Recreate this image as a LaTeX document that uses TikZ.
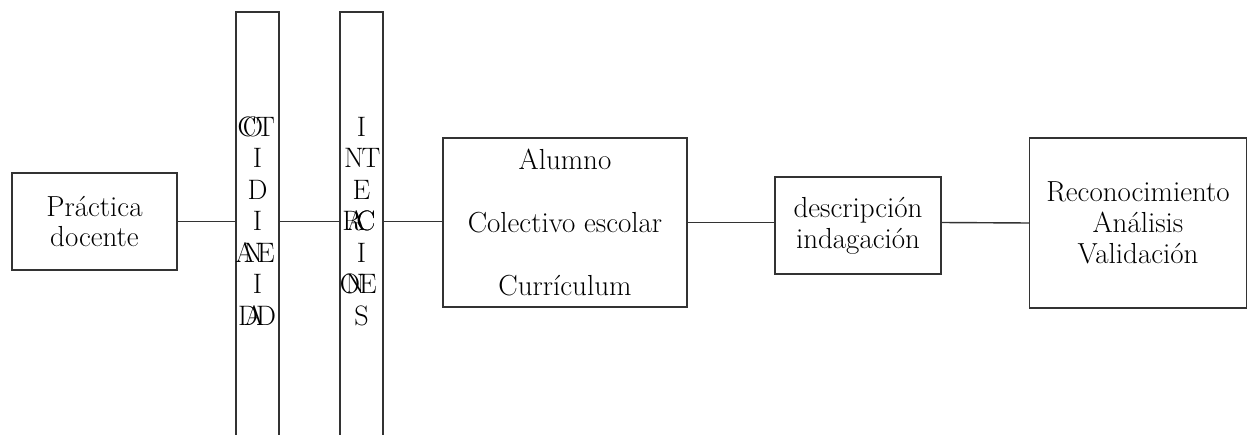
\documentclass[tikz,border=0pt]{standalone}
\newcommand{\lt}[2]{\makebox[0pt]{\kern#1pt#2\kern-#1pt}}
\tikzset{
  caja/.style={draw=black!80, line width=0.8pt, align=center, font=\fontsize{16.5}{17.5}\selectfont},
  barra/.style={draw=black!80, line width=0.8pt, minimum width=8.6mm, minimum height=89.6mm, inner sep=0pt},
  letra/.style={anchor=base, inner sep=0pt, font=\fontsize{16}{17}\selectfont},
  enlace/.style={draw=black!80, line width=0.8pt}
}
\begin{document}
\begin{tikzpicture}[x=0.2mm,y=-0.2mm]
            \useasboundingbox (0,0) rectangle (1248,435);
            \clip (0,0) rectangle (1248,435);
            \node[caja, minimum width=33mm, minimum height=19.4mm] (practica) at (94.5,221.5) {Práctica\\docente};
            \begin{scope}
                \node[barra] (cotid) at (257.5,236) {};
                \foreach \t [count=\i] in {{\lt{-6}{C}\lt{-2.5}{O}\lt{4.5}{T}}, I, D, I,
                    {\lt{-7}{A}\lt{-2.5}{N}\lt{4.8}{E}}, I, {\lt{-5.4}{D}\lt{-2}{A}\lt{4.8}{D}}}
                    \node[letra] (cot\i) at (257.5,{104.5+31.5*\i}) {\t};
            \end{scope}
            \begin{scope}
                \node[barra] (inter) at (361.5,236) {};
                \foreach \t [count=\i] in {I, {\lt{-4.3}{N}\lt{5.4}{T}}, E,
                    {\lt{-5.4}{R}\lt{-3}{A}\lt{2.5}{C}\lt{2.5}{C}}, I,
                    {\lt{-6.5}{O}\lt{-3.7}{N}\lt{3.7}{E}}, S}
                    \node[letra] (int\i) at (361.5,{104.5+31.5*\i}) {\t};
            \end{scope}
            \node[caja, minimum width=48.8mm, minimum height=33.8mm] (alumno) at (565,222.5)
                {Alumno\\[18.5pt]Colectivo escolar\\[18.5pt]Currículum};
            \node[caja, minimum width=33.2mm, minimum height=19.4mm] (desc) at (858,225.5) {descripción\\indagación};
            \node[caja, minimum width=43.3mm, minimum height=34mm] (reco) at (1138,223)
                {Reconocimiento\\Análisis\\Validación};
            \draw[enlace] (practica.east) -- (practica.east -| cotid.west);
            \draw[enlace] (practica.east -| cotid.east) -- (practica.east -| inter.west);
            \draw[enlace] (practica.east -| inter.east) -- (practica.east -| alumno.west);
            \draw[enlace] (alumno.east) -- (alumno.east -| desc.west);
            \draw[enlace] (alumno.east -| desc.east) -- (reco.west);
\end{tikzpicture}
\end{document}
